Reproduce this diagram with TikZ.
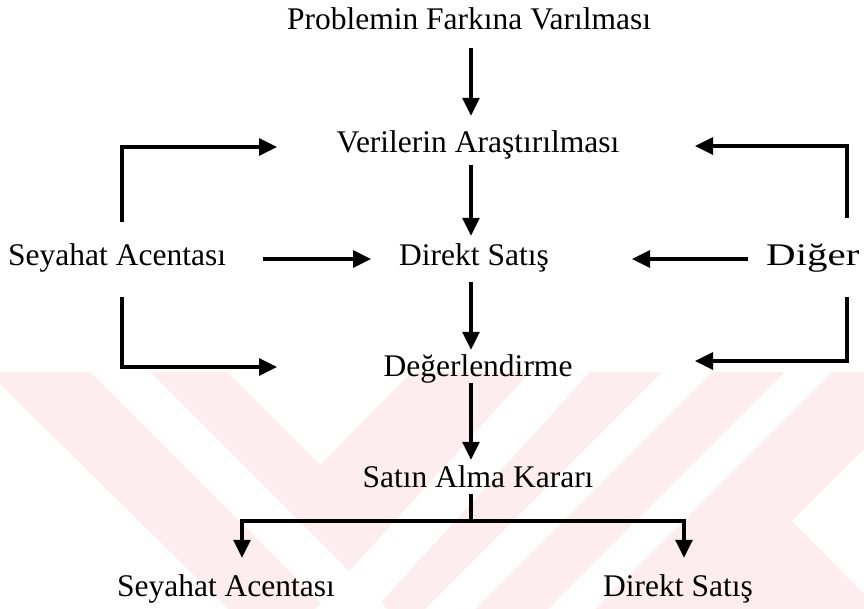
\documentclass[tikz,border=0pt]{standalone}
\usepackage{fontspec}
\usepackage{graphicx}
\setmainfont{Liberation Serif}
\usetikzlibrary{arrows.meta,calc}
\definecolor{wmpink}{RGB}{253,236,240}
\tikzset{
  lbl/.style={inner sep=0pt, text height=21pt, text depth=7pt,
              font=\fontsize{31.5}{36}\selectfont},
  link/.style={line width=3.2pt},
  arr/.style={link, -{Triangle[length=18pt,width=17pt]}},
  wmgap/.style={fill=white, draw=none}
}
\begin{document}
\begin{tikzpicture}[x=1pt,y=-1pt]
\useasboundingbox[fill=white] (0,0) rectangle (864,609);

% background watermark: pink field with white chevron gaps
\fill[wmpink] (0,372) rectangle (864,609);
\fill[wmgap] (0,384) -- (228,609) -- (0,609) -- cycle;
\fill[wmgap] (90,372) -- (150,372) -- (387,609) -- (327,609) -- cycle;
\fill[wmgap] (227,372) -- (412,372) -- (320,465) -- cycle;
\fill[wmgap] (315,609) -- (375,609) -- (590,372) -- (530,372) -- cycle;
\fill[wmgap] (425,609) -- (475,609) -- (712,372) -- (662,372) -- cycle;
\fill[wmgap] (548,609) -- (595,609) -- (832,372) -- (785,372) -- cycle;
\fill[wmgap] (792,521) -- (864,449) -- (864,594) -- cycle;

% labels
\node[lbl, anchor=base] (prob) at (469,30) {Problemin Farkına Varılması};
\node[lbl, anchor=base] (ver)  at (478,153) {Verilerin Araştırılması};
\node[lbl, anchor=base] (dir)  at (474,266) {Direkt Satış};
\node[lbl, anchor=base] (deg)  at (478,376) {Değerlendirme};
\node[lbl, anchor=base] (sat)  at (478,487) {Satın Alma Kararı};
\node[lbl, anchor=base west] (seyL) at (8,266) {Seyahat Acentası};
\node[lbl, anchor=base west] (dig)  at (766,266) {\scalebox{1.3}[1]{Diğer}};
\node[lbl, anchor=base] (seyB) at (226,596) {Seyahat Acentası};
\node[lbl, anchor=base] (dirB) at (678,596) {Direkt Satış};

% guide coordinates
\coordinate (spine) at (471,0);
\coordinate (lx) at (122,0);
\coordinate (rx) at (847,0);
\coordinate (tipLT) at (277,147);
\coordinate (tipLB) at (277,367);
\coordinate (tipRT) at (695,146);
\coordinate (tipRB) at (695,361);
\coordinate (jl) at (242,521);
\coordinate (jr) at (684,521);

% main vertical flow
\draw[arr, shorten <=11pt, shorten >=16pt] (prob.south -| spine) -- (ver.north -| spine);
\draw[arr, shorten <=5pt,  shorten >=9pt]  (ver.south -| spine) -- (dir.north -| spine);
\draw[arr, shorten <=9pt,  shorten >=5pt]  (dir.south -| spine) -- (deg.north -| spine);
\draw[arr, shorten >=6pt] (deg.south -| spine) -- (sat.north -| spine);

% final split
\draw[link] (sat.south -| spine) -- (spine |- jl);
\draw[arr, shorten >=17pt] (jr) -- (jl) -- (jl |- seyB.north);
\draw[arr, shorten >=17pt] (jl) -- (jr) -- (jr |- dirB.north);

% side inputs: travel agency
\draw[arr, shorten <=23pt] (seyL.north -| lx) -- (lx |- tipLT) -- (tipLT);
\draw[arr, shorten <=24pt] (seyL.south -| lx) -- (lx |- tipLB) -- (tipLB);
\draw[arr, shorten <=37pt, shorten >=28pt] (seyL.east) -- (dir.west);

% side inputs: other
\draw[arr, shorten <=27pt] (dig.north -| rx) -- (rx |- tipRT) -- (tipRT);
\draw[arr, shorten <=24pt] (dig.south -| rx) -- (rx |- tipRB) -- (tipRB);
\draw[arr, shorten <=18pt, shorten >=83pt] (dig.west) -- (dir.east);
\end{tikzpicture}
\end{document}
